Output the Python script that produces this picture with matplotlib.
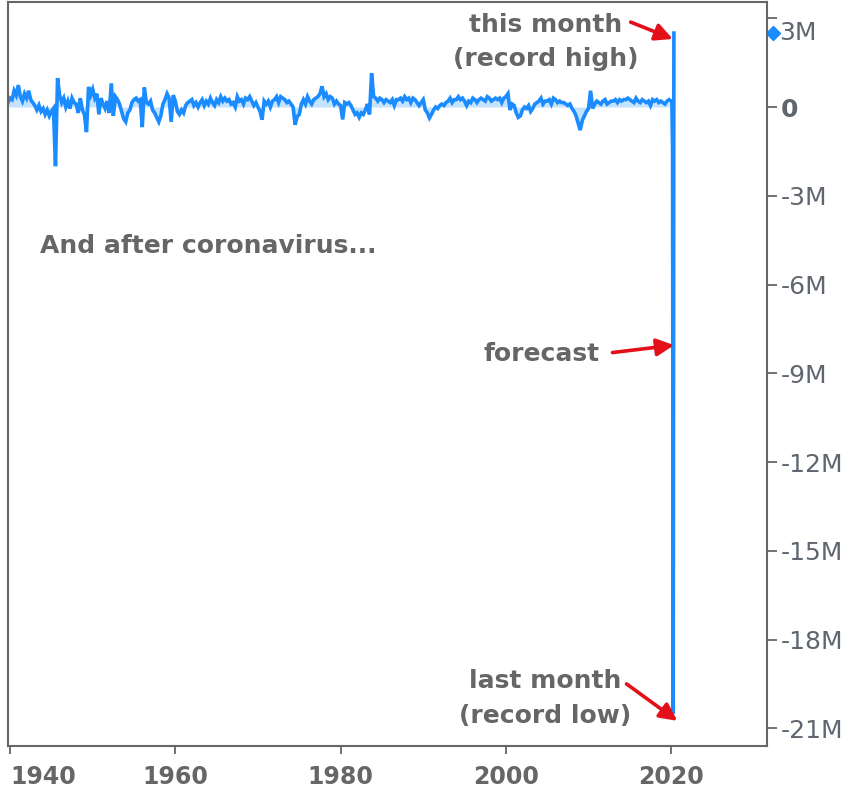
import numpy as np
import matplotlib
matplotlib.use("Agg")
import matplotlib.pyplot as plt
import matplotlib.transforms as mtransforms

# monthly payroll change, quarterly readings (thousands), starting 1939 Q4
start_year = 1939.75
payrolls = [
    150,
    300, 250, 550, 400,   # 1940
    740, 350, 200, 450,
    300, 550, 250, 150,
    50, -100, 60, -150,
    -50, -250, -100, -300,
    -150, -50, -2000, 980,  # 1945
    400, 150, 300, 0,
    200, -50, 300, 150,
    100, -200, 300, -100,
    -250, -850, 680, 400,
    600, 300, 450, -250,  # 1950
    300, 100, -50, 200,
    -200, 800, -300, 350,
    250, 100, -150, -400,
    -500, -200, -100, 150,
    250, 300, 200, 250,   # 1955
    -680, 660, 150, 100,
    200, -100, -200, -350,
    -500, -300, 100, 250,
    450, 300, -500, 400,
    200, -150, -250, -100,  # 1960
    -200, 50, 150, 200,
    250, 50, 150, 0,
    150, 250, 50, 200,
    100, 300, 150, 50,
    250, 150, 350, 200,   # 1965
    300, 200, 250, 100,
    150, 0, 350, 200,
    250, 100, 300, 250,
    350, 200, 50, 150,
    0, -150, -430, 200,  # 1970
    100, 200, 0, 200,
    250, 350, 150, 350,
    300, 250, 150, 200,
    100, 0, -600, -320,
    -250, 100, 250, 100,  # 1975
    350, 200, 100, 250,
    300, 350, 450, 700,
    350, 450, 250, 350,
    300, 100, 200, 100,
    50, -420, 150, 100,   # 1980
    150, 50, -100, -250,
    -200, -350, -200, -250,
    -100, 100, -250, 1140,
    350, 300, 200, 300,
    250, 150, 250, 200,   # 1985
    150, 250, 50, 250,
    250, 300, 200, 350,
    250, 300, 150, 300,
    250, 150, 50, 150,
    250, -100, -200, -370,  # 1990
    -250, -100, 0, -50,
    50, 100, 50, 150,
    200, 300, 150, 250,
    250, 350, 250, 300,
    200, 50, 200, 150,   # 1995
    300, 250, 150, 250,
    300, 250, 200, 350,
    300, 200, 250, 300,
    250, 300, 150, 300,
    350, 450, -100, 100,  # 2000
    50, -200, -350, -300,
    -100, 0, -50, 50,
    -150, -50, 100, 150,
    200, 300, 100, 200,
    200, 250, 100, 300,   # 2005
    250, 150, 200, 150,
    150, 100, 50, 100,
    -50, -150, -300, -550,
    -780, -450, -300, -150,
    -50, 550, -50, 100,   # 2010
    200, 150, 100, 200,
    250, 100, 150, 200,
    200, 250, 150, 250,
    200, 250, 250, 300,
    250, 200, 150, 300,   # 2015
    200, 150, 250, 200,
    150, 200, 50, 250,
    200, 250, 150, 200,
    150, 100, 200, 250,
]
# 2020 monthly: Jan, Feb, Mar, Apr (last month), May (this month)
covid_years = [2020.0, 2020.08, 2020.17, 2020.25, 2020.33]
covid_vals = [200, 250, -1400, -20500, 2500]
forecast = -8000

hist_x = start_year + 0.25 * np.arange(len(payrolls))
hist_y = np.array(payrolls) / 1000.0
x = np.concatenate([hist_x, covid_years])
y = np.concatenate([hist_y, np.array(covid_vals) / 1000.0])

blue = "#1a8cff"
grey = "#666666"
red = "#e3101a"

fig = plt.figure(figsize=(8.48, 7.96), dpi=100)
ax = fig.add_axes([0.0094, 0.0628, 0.8951, 0.9347])

ax.fill_between(hist_x, hist_y, 0, color=blue, alpha=0.25, lw=0)
ax.plot(x, y, color=blue, lw=2.6, solid_joinstyle="miter")

ax.set_xlim(1939.75, 2031.6)
ax.set_ylim(-21.6, 3.55)

# axes styling
for s in ax.spines.values():
    s.set_color(grey)
    s.set_linewidth(1.5)
ax.yaxis.tick_right()
yt = [3, 0, -3, -6, -9, -12, -15, -18, -21]
ylabels = ["", "0", "-3M", "-6M", "-9M", "-12M", "-15M", "-18M", "-21M"]
ax.set_yticks(yt)
ax.set_yticklabels(ylabels)
ax.tick_params(axis="y", direction="out", length=7, width=1.3, color=grey,
               labelsize=18, labelcolor="#5f6670", pad=3)
for lab in ax.get_yticklabels():
    if lab.get_text() == "0":
        lab.set_fontweight("bold")
xt = [1940, 1960, 1980, 2000, 2020]
ax.set_xticks(xt)
ax.set_xticklabels([str(v) for v in xt])
ax.tick_params(axis="x", direction="out", length=6, width=1.3, color=grey,
               labelsize=17, labelcolor=grey, pad=8)
for lab in ax.get_xticklabels():
    lab.set_fontweight("bold")
ax.get_xticklabels()[0].set_horizontalalignment("left")

# last value marker on the right axis
trans = mtransforms.blended_transform_factory(ax.transAxes, ax.transData)
ax.plot([1.008], [covid_vals[-1] / 1000.0], marker="D", ms=7, color=blue,
        transform=trans, clip_on=False)
ax.text(1.016, covid_vals[-1] / 1000.0, "3M", transform=trans, fontsize=18,
        color="#5f6670", va="center", ha="left")

# annotations
tk = dict(fontsize=18, fontweight="bold", color=grey, ha="center",
          va="center", linespacing=1.55)
ap = dict(arrowstyle="-|>", color=red, lw=2.6, mutation_scale=26,
          shrinkA=0, shrinkB=0)
ax.text(2004.8, 2.2, "this month\n(record high)", **tk)
ax.annotate("", xy=(2020.2, 2.3), xytext=(2015.1, 2.87), arrowprops=ap)
ax.text(2004.3, -8.35, "forecast", **tk)
ax.annotate("", xy=(2020.35, forecast / 1000.0 - 0.05), xytext=(2012.9, -8.3),
            arrowprops=ap)
ax.text(2004.8, -20.0, "last month\n(record low)", **tk)
ax.annotate("", xy=(2020.75, -20.75), xytext=(2014.6, -19.5), arrowprops=ap)

ax.text(1943.6, -4.7, "And after coronavirus...", fontsize=18,
        fontweight="bold", color=grey, ha="left", va="center")

fig.savefig("out.png", dpi=100)
